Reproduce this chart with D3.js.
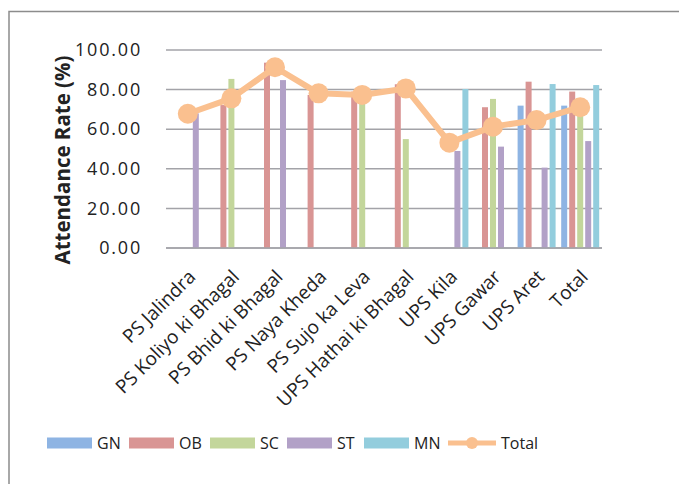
<!DOCTYPE html>
<html>
<head>
<meta charset="utf-8">
<script src="https://cdn.jsdelivr.net/npm/d3@7"></script>
<style>
  body { margin: 0; background: #fff; }
  text { font-family: "Open Sans", sans-serif; fill: #222; }
</style>
</head>
<body>
<div id="chart"></div>
<script>
// categories and series
var schools = ["PS Jalindra", "PS Koliyo ki Bhagal", "PS Bhid ki Bhagal", "PS Naya Kheda",
  "PS Sujo ka Leva", "UPS Hathai ki Bhagal", "UPS Kila", "UPS Gawar", "UPS Aret", "Total"];
var groups = ["GN", "OB", "SC", "ST", "MN"];
var GN = [0, 0, 0, 0, 0, 0, 0, 0, 71.9, 71.9];
var OB = [0, 72.2, 93.6, 77.3, 79.0, 82.7, 0, 71.1, 84.0, 79.0];
var SC = [0, 85.4, 0, 0, 76.0, 55.0, 0, 75.3, 0, 70.5];
var ST = [68.0, 0, 84.8, 0, 0, 0, 49.0, 51.2, 40.6, 54.0];
var MN = [0, 0, 0, 0, 0, 0, 80.3, 0, 82.8, 82.3];
var total = [67.8, 75.6, 91.3, 78.1, 77.3, 80.6, 53.2, 61.3, 64.6, 71.1];
var yTicks = [0, 20, 40, 60, 80, 100];

var series = { GN: GN, OB: OB, SC: SC, ST: ST, MN: MN };
var colors = { GN: "#8eb4e3", OB: "#d99594", SC: "#c3d69b", ST: "#b2a1c7", MN: "#93cddd" };
var totalColor = "#fac08f";

var W = 679, H = 484;
var margin = { top: 50, left: 166, right: 77, bottom: 236 };
var width = W - margin.left - margin.right,
    height = H - margin.top - margin.bottom;

var svg = d3.select("#chart").append("svg")
  .attr("width", W).attr("height", H);

// outer frame (top and left edges visible)
svg.append("path")
  .attr("d", "M9,484 V11.5 H679")
  .attr("fill", "none")
  .attr("stroke", "#8c8c8c")
  .attr("stroke-width", 1.5);

var g = svg.append("g")
  .attr("transform", "translate(" + margin.left + "," + margin.top + ")");

var x0 = d3.scaleBand().domain(schools).range([0, width]).padding(0);
var x1 = d3.scaleBand().domain(groups).range([0, x0.bandwidth()])
  .paddingInner(0.25).paddingOuter(0.35);
var y = d3.scaleLinear().domain([0, 100]).range([height, 0]);

// gridlines
g.selectAll(".grid").data(yTicks).enter().append("line")
  .attr("x1", 0).attr("x2", width)
  .attr("y1", d => y(d)).attr("y2", d => y(d))
  .attr("stroke", "#a3a3a8").attr("stroke-width", 1.5);

// y tick labels
var yAxis = g.append("g")
  .call(d3.axisLeft(y).tickValues(yTicks).tickFormat(d3.format(".2f")).tickSize(0).tickPadding(24));
yAxis.select(".domain").remove();
yAxis.selectAll("text")
  .style("font-family", "'Open Sans', sans-serif")
  .style("font-size", "18px")
  .style("letter-spacing", "1.8px")
  .attr("fill", "#222");

// y title
svg.append("text")
  .attr("transform", "translate(70," + (margin.top + height / 2 + 11) + ") rotate(-90)")
  .attr("text-anchor", "middle")
  .style("font-size", "20.5px")
  .style("font-weight", "bold")
  .text("Attendance Rate (%)");

// bars
var barData = [];
schools.forEach(function (s, i) {
  groups.forEach(function (k) {
    barData.push({ school: s, key: k, value: series[k][i] });
  });
});
g.selectAll(".bar").data(barData).enter().append("rect")
  .attr("x", d => x0(d.school) + x1(d.key))
  .attr("y", d => y(d.value))
  .attr("width", x1.bandwidth())
  .attr("height", d => height - y(d.value))
  .attr("fill", d => colors[d.key]);

// x baseline on top of bars
g.append("line")
  .attr("x1", 0).attr("x2", width)
  .attr("y1", height).attr("y2", height)
  .attr("stroke", "#a3a3a8").attr("stroke-width", 1.5);

// total line
var cx = (d, i) => x0(schools[i]) + x0.bandwidth() / 2;
var line = d3.line().x((d, i) => cx(d, i)).y(d => y(d));
g.append("path")
  .attr("d", line(total))
  .attr("fill", "none")
  .attr("stroke", totalColor)
  .attr("stroke-width", 6)
  .attr("stroke-linejoin", "round");
g.selectAll(".dot").data(total).enter().append("circle")
  .attr("cx", (d, i) => cx(d, i))
  .attr("cy", d => y(d))
  .attr("r", 10)
  .attr("fill", totalColor);

// x labels
g.selectAll(".xlab").data(schools).enter().append("text")
  .attr("transform", d => "translate(" + (x0(d) + x0.bandwidth() / 2 + 9) + "," + (height + 30) + ") rotate(-45)")
  .attr("text-anchor", "end")
  .style("font-size", "19px")
  .text(d => d);

// legend
var legendItems = [
  { key: "GN", x: 47 }, { key: "OB", x: 129 }, { key: "SC", x: 210 },
  { key: "ST", x: 287 }, { key: "MN", x: 364 }
];
var leg = svg.append("g").attr("transform", "translate(0,443)");
legendItems.forEach(function (it) {
  leg.append("rect")
    .attr("x", it.x).attr("y", -5.5)
    .attr("width", 45).attr("height", 11)
    .attr("fill", colors[it.key]);
  leg.append("text")
    .attr("x", it.x + 50).attr("dy", "0.35em")
    .style("font-size", "16px")
    .text(it.key);
});
leg.append("line")
  .attr("x1", 448).attr("x2", 496)
  .attr("stroke", totalColor).attr("stroke-width", 5);
leg.append("circle")
  .attr("cx", 472).attr("r", 6).attr("fill", totalColor);
leg.append("text")
  .attr("x", 501).attr("dy", "0.35em")
  .style("font-size", "16px")
  .text("Total");
</script>
</body>
</html>
